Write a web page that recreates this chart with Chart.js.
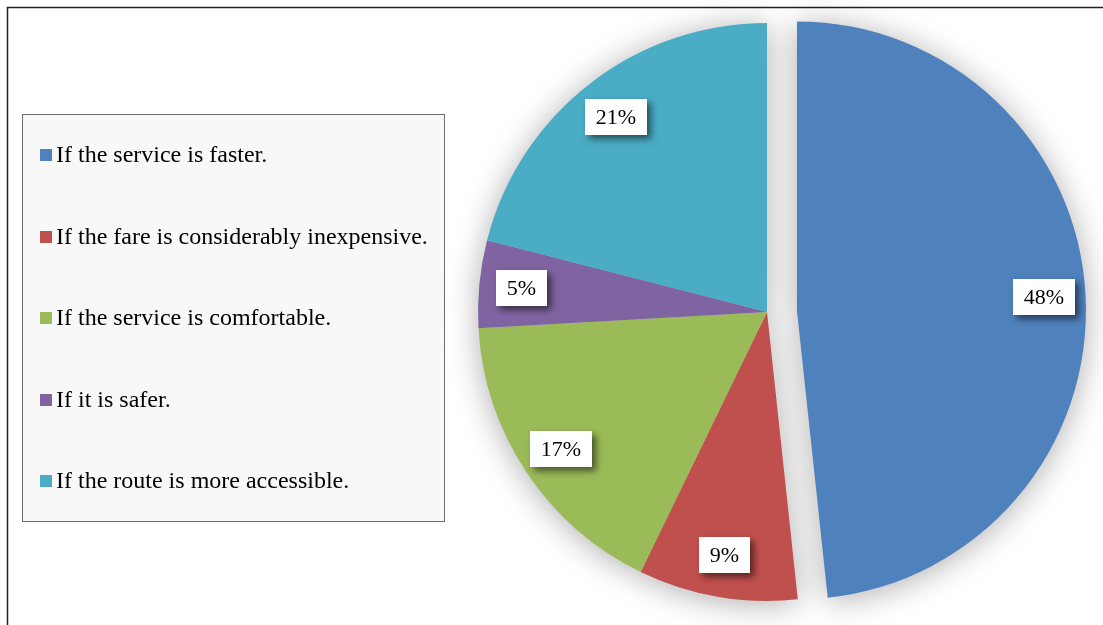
<!DOCTYPE html>
<html>
<head>
<meta charset="utf-8">
<script src="https://cdn.jsdelivr.net/npm/chart.js@4.4.1/dist/chart.umd.min.js"></script>
<style>
  body { margin: 0; background: #fff; }
  canvas { display: block; }
</style>
</head>
<body>
<canvas id="chart" width="1103" height="625"></canvas>
<script>
var categories = [
  'If the service is faster.',
  'If the fare is considerably inexpensive.',
  'If the service is comfortable.',
  'If it is safer.',
  'If the route is more accessible.'
];
// shares (labels show them rounded)
var shares = [48.3, 8.9, 16.9, 4.9, 21.0];
var sliceColors = ['#4f81bd', '#c0504d', '#9bbb59', '#8064a2', '#4bacc6'];

var SERIF = '"Liberation Serif", "Times New Roman", serif';

// shift of an exploded slice along its bisector
function explodeShift(chart, i, arc) {
  var px = chart.data.datasets[0].explode[i] || 0;
  var mid = (arc.startAngle + arc.endAngle) / 2;
  return { dx: Math.cos(mid) * px, dy: Math.sin(mid) * px };
}

// draw arcs ourselves so the exploded slice keeps its radius
var pieDraw = {
  id: 'pieDraw',
  beforeDatasetDraw: function(chart, args) {
    var ctx = chart.ctx;
    var arcs = args.meta.data;

    // soft shadow under the whole pie
    ctx.save();
    ctx.shadowColor = 'rgba(0,0,0,0.32)';
    ctx.shadowBlur = 32;
    ctx.shadowOffsetX = 10000;
    ctx.shadowOffsetY = 3;
    arcs.forEach(function(arc, i) {
      var s = explodeShift(chart, i, arc);
      ctx.save();
      ctx.translate(s.dx - 10000, s.dy);
      arc.draw(ctx);
      ctx.restore();
    });
    ctx.restore();

    arcs.forEach(function(arc, i) {
      var s = explodeShift(chart, i, arc);
      ctx.save();
      ctx.translate(s.dx, s.dy);
      arc.draw(ctx);
      ctx.restore();
    });
    return false;
  }
};

var sliceLabels = {
  id: 'sliceLabels',
  afterDatasetsDraw: function(chart) {
    var ctx = chart.ctx;
    var arcs = chart.getDatasetMeta(0).data;
    ctx.save();
    ctx.font = '22px ' + SERIF;
    ctx.textAlign = 'center';
    ctx.textBaseline = 'middle';
    arcs.forEach(function(arc, i) {
      var s = explodeShift(chart, i, arc);
      var mid = (arc.startAngle + arc.endAngle) / 2;
      var r = arc.outerRadius * 0.855;
      var cx = arc.x + s.dx + Math.cos(mid) * r;
      var cy = arc.y + s.dy + Math.sin(mid) * r;
      var text = Math.round(shares[i]) + '%';
      var w = Math.round(ctx.measureText(text).width + 22);
      var h = 36;
      var x0 = Math.round(cx - w / 2), y0 = Math.round(cy - h / 2);

      ctx.save();
      ctx.shadowColor = 'rgba(0,0,0,0.55)';
      ctx.shadowBlur = 7;
      ctx.shadowOffsetX = 4;
      ctx.shadowOffsetY = 4;
      ctx.fillStyle = '#fff';
      ctx.fillRect(x0, y0, w, h);
      ctx.restore();

      ctx.fillStyle = '#000';
      ctx.fillText(text, x0 + w / 2, y0 + h / 2 + 1);
    });
    ctx.restore();
  }
};

// frame and boxed legend on the left
var frameLegend = {
  id: 'frameLegend',
  beforeDraw: function(chart) {
    var ctx = chart.ctx;
    ctx.save();
    ctx.strokeStyle = '#222';
    ctx.lineWidth = 1.5;
    ctx.beginPath();
    ctx.moveTo(7.5, 625);
    ctx.lineTo(7.5, 7.5);
    ctx.lineTo(1103, 7.5);
    ctx.stroke();

    ctx.fillStyle = '#f8f8f8';
    ctx.fillRect(22, 114, 422, 407);
    ctx.strokeStyle = '#6e6e6e';
    ctx.lineWidth = 1;
    ctx.strokeRect(22.5, 114.5, 422, 407);

    ctx.font = '24px ' + SERIF;
    ctx.textBaseline = 'middle';
    ctx.textAlign = 'left';
    chart.data.labels.forEach(function(label, i) {
      var y = Math.round(155 + i * 81.5);
      ctx.fillStyle = chart.data.datasets[0].backgroundColor[i];
      ctx.fillRect(40, y - 6, 12, 12);
      ctx.fillStyle = '#000';
      ctx.fillText(label, 56, y + 1);
    });
    ctx.restore();
  }
};

new Chart(document.getElementById('chart'), {
  type: 'pie',
  data: {
    labels: categories,
    datasets: [{
      data: shares,
      backgroundColor: sliceColors,
      borderWidth: 0,
      explode: [30, 0, 0, 0, 0]
    }]
  },
  options: {
    responsive: false,
    animation: false,
    devicePixelRatio: 1,
    radius: 289,
    layout: { padding: { left: 460, right: 29, top: 10, bottom: 11 } },
    plugins: {
      legend: { display: false },
      tooltip: { enabled: false }
    }
  },
  plugins: [frameLegend, pieDraw, sliceLabels]
});
</script>
</body>
</html>
